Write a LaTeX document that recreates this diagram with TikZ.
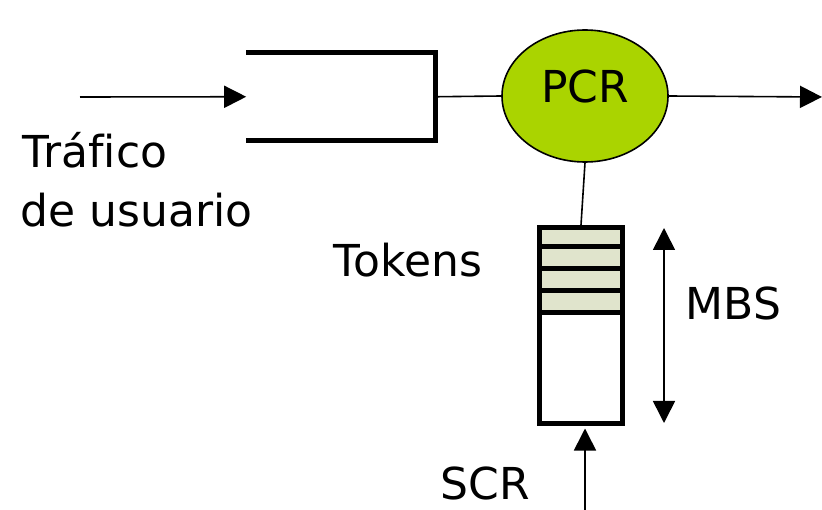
\documentclass[tikz,border=0pt]{standalone}
\usepackage{fontspec}
\setmainfont[Ligatures=NoCommon]{DejaVu Sans}
\usepackage{tikz}
\usetikzlibrary{positioning, arrows.meta, shapes.geometric}
\definecolor{pcrgreen}{RGB}{170,212,0}
\definecolor{tokenfill}{RGB}{224,228,204}

\begin{document}
\begin{tikzpicture}[x=1pt, y=-1pt, line width=1.6pt,
    tip/.style={-{Triangle[length=22pt, width=22pt]}},
    both/.style={{Triangle[length=22pt, width=22pt]}-{Triangle[length=22pt, width=22pt]}},
    wall/.style={line width=5pt},
    txt/.style={font=\fontsize{44}{52}\selectfont, inner sep=0pt}]
    \useasboundingbox (0,0) rectangle (822,510);
    \coordinate (in) at (80,97);
    \coordinate (out) at (822,97);
    \node[minimum width=187.5pt, minimum height=86.5pt, inner sep=0pt] (queue) at (340.75,96.75) {};
    \node[ellipse, draw, fill=pcrgreen, minimum width=166pt, minimum height=132pt, text depth=20pt, txt] (pcr) at (585,96) {PCR};
    \node[draw, wall, minimum width=83pt, minimum height=196pt, inner sep=0pt,
        path picture={\fill[tokenfill] (path picture bounding box.north west) rectangle ([yshift=-87.5pt]path picture bounding box.north east);}] (bucket) at (581,325.5) {};
    \foreach \k in {1,...,4}
        \draw[wall] ([yshift=-\k*21.9pt]bucket.north west) -- ([yshift=-\k*21.9pt]bucket.north east);
    \coordinate (mbstop) at (664,228);
    \coordinate (mbsbot) at (664,423);
    \coordinate (scr) at (585,510);

    \node[txt, anchor=base west] (traffic) at (22,168) {Tráfico};
    \node[txt, anchor=base west] (user) at (20,227) {de usuario};
    \node[txt, anchor=base west] (tokens) at (333,277) {Tokens};
    \node[txt, anchor=base west] (mbs) at (685,320) {MBS};
    \node[txt, anchor=base west] (scrlabel) at (440,499) {SCR};

    \draw[tip] (in) -- (queue.west);
    \draw[wall] (queue.north west) -- (queue.north east) -- (queue.south east) -- (queue.south west);
    \draw (queue.east) -- (pcr.west);
    \draw[tip] (pcr.east) -- (out);
    \draw (pcr.south) -- (bucket.north);
    \draw[both] (mbstop) -- (mbsbot);
    \draw[tip] (scr) -- ([yshift=-2.5pt]scr |- bucket.south);
\end{tikzpicture}
\end{document}
